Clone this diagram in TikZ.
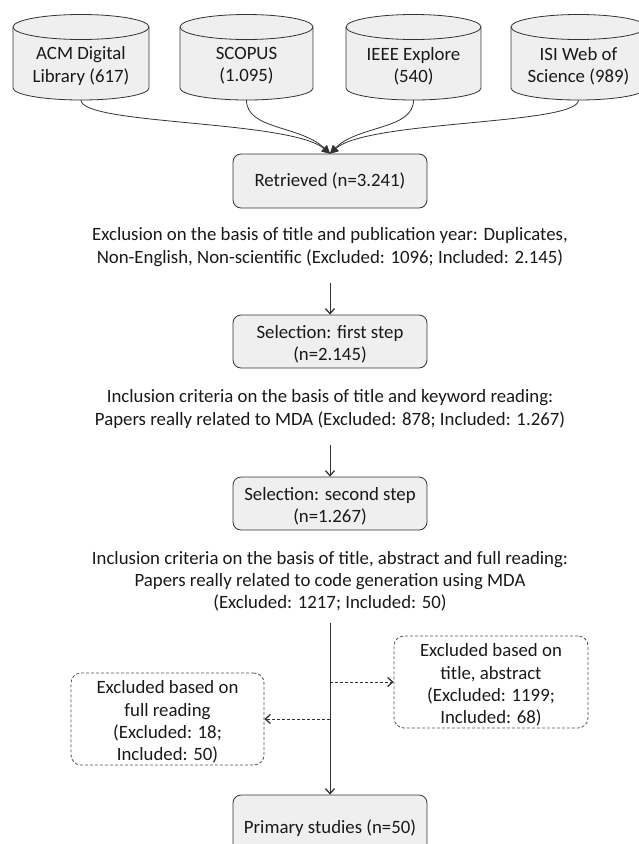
\documentclass[tikz,border=0pt]{standalone}
\usepackage{fontspec}
\setmainfont{Carlito}
\usetikzlibrary{arrows.meta}
\definecolor{boxfill}{HTML}{EFEFEF}
\definecolor{edge}{HTML}{333333}
\tikzset{
  txt/.style={font=\fontsize{18.8}{22.2}\selectfont, align=center, inner sep=0pt, text=black!90},
  stepbox/.style={draw=edge, fill=boxfill, rounded corners=8pt, line width=0.8pt},
  dashbox/.style={draw=edge!85, dash pattern=on 3pt off 2pt, rounded corners=10pt, line width=0.8pt},
  flow/.style={draw=edge, line width=0.8pt, -{Straight Barb[length=5pt,width=9pt,line width=1.3pt]}},
  dflow/.style={flow, dash pattern=on 3pt off 2pt},
  merge/.style={draw=edge, line width=0.8pt, -{Triangle[length=8pt,width=8pt]}},
  cyl/.style={draw=edge, fill=boxfill, line width=0.8pt}
}
% database cylinder: left x, right x, name, text
\newcommand{\dbcylinder}[4]{%
  \pgfmathsetmacro{\rxc}{(#2-#1)/2}
  \path[cyl] (#1,27) -- (#1,88) arc[start angle=180, end angle=0, x radius=\rxc, y radius=12]
    -- (#2,27) arc[start angle=0, end angle=-180, x radius=\rxc, y radius=12.5] -- cycle;
  \draw[cyl, fill=none] (#1,27) arc[start angle=180, end angle=0, x radius=\rxc, y radius=12.5];
  \node[txt] (#3) at ({(#1+#2)/2},66) {#4};
  \coordinate (#3b) at ({(#1+#2)/2},100);
}
\begin{document}
\begin{tikzpicture}[x=1pt, y=-1pt]
\useasboundingbox (0,0) rectangle (638,844);

% sources
\dbcylinder{13}{149}{acm}{ACM Digital\\Library (617)}
\dbcylinder{180}{313}{scopus}{SCOPUS\\(1.095)}
\dbcylinder{346}{481}{ieee}{IEEE Explore\\(540)}
\dbcylinder{511}{646}{isi}{ISI Web of\\Science (989)}

% main chain
\node[stepbox, minimum width=194pt, minimum height=54pt] (ret) at (330,181) {};
\node[txt] (rett) at (330,181) {Retrieved (n=3.241)};

\node[txt] (c1) at (330,247) {Exclusion on the basis of title and publication year: Duplicates,\\Non-English, Non-scientific (Excluded: 1096; Included: 2.145)};

\node[stepbox, minimum width=194pt, minimum height=53pt] (s1) at (330,341.5) {};
\node[txt] (s1t) at (330,344) {Selection: first step\\(n=2.145)};

\node[txt] (c2) at (330,409) {Inclusion criteria on the basis of title and keyword reading:\\Papers really related to MDA (Excluded: 878; Included: 1.267)};

\node[stepbox, minimum width=194pt, minimum height=53pt] (s2) at (330,503.5) {};
\node[txt] (s2t) at (330,506) {Selection: second step\\(n=1.267)};

\node[txt] (c3) at (330,581.5) {Inclusion criteria on the basis of title, abstract and full reading:\\Papers really related to code generation using MDA\\(Excluded: 1217; Included: 50)};

\node[stepbox, minimum width=194pt, minimum height=60pt] (ps) at (330,825) {};
\node[txt] (pst) at (330,828) {Primary studies (n=50)};

% side exclusions
\node[dashbox, minimum width=194pt, minimum height=92pt] (exr) at (491,682) {};
\node[txt] (exrt) at (491,685) {Excluded based on\\title, abstract\\(Excluded: 1199;\\Included: 68)};
\node[dashbox, minimum width=193pt, minimum height=92pt] (exl) at (167.5,719) {};
\node[txt] (exlt) at (167.5,722) {Excluded based on\\full reading\\(Excluded: 18;\\Included: 50)};

% merging connectors
\draw[merge] (acmb) .. controls (81,125) and (290,120) .. (ret.north);
\draw[merge] (scopusb) .. controls (246.5,130) and (300,125) .. (ret.north);
\draw[merge] (ieeeb) .. controls (413.5,130) and (358,125) .. (ret.north);
\draw[merge] (isib) .. controls (578.5,125) and (368,120) .. (ret.north);

% flow arrows
\coordinate (a1) at (330,283);
\coordinate (a2) at (330,445);
\coordinate (a3) at (330,623);
\coordinate (br) at (330,682);
\coordinate (bl) at (330,719);
\draw[flow] (a1) -- (s1.north);
\draw[flow] (a2) -- (s2.north);
\draw[flow] (a3) -- (ps.north);
\draw[dflow] (br) -- (exr.west);
\draw[dflow] (bl) -- (exl.east);
\end{tikzpicture}
\end{document}
